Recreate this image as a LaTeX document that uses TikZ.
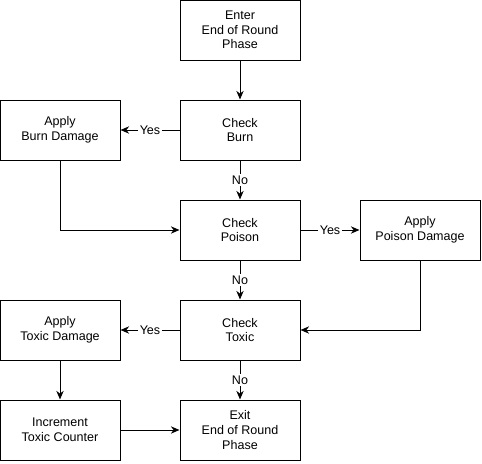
\documentclass[tikz,border=0pt]{standalone}
\usepackage{fontspec}
\setmainfont{Liberation Sans}
\usetikzlibrary{arrows.meta}

\begin{document}
\begin{tikzpicture}[x=0.75pt, y=-0.75pt,
    box/.style={draw, line width=0.75pt, minimum width=90pt, minimum height=45pt,
        align=center, inner sep=0pt, font=\fontsize{9.4}{11}\selectfont},
    flow/.style={line width=0.75pt, -{Stealth[length=6.5pt, width=5.5pt]}},
    lbl/.style={fill=white, inner sep=1pt, font=\fontsize{9.4}{11}\selectfont}]
    \useasboundingbox (0, 0) rectangle (482, 464);

    % Main column of checks
    \node[box] (enter) at (240, 30) {Enter\\End of Round\\Phase};
    \node[box] (burn) at (240, 130) {Check\\Burn};
    \node[box] (poison) at (240, 230) {Check\\Poison};
    \node[box] (toxic) at (240, 330) {Check\\Toxic};
    \node[box] (exit) at (240, 430) {Exit\\End of Round\\Phase};

    % Side actions
    \node[box] (applyburn) at (60, 130) {Apply\\Burn Damage};
    \node[box] (applypoison) at (420, 230) {Apply\\Poison Damage};
    \node[box] (applytoxic) at (60, 330) {Apply\\Toxic Damage};
    \node[box] (counter) at (60, 430) {Increment\\Toxic Counter};

    \draw[flow] (enter) -- (burn);
    \draw[flow] (burn) -- node[lbl] {Yes} (applyburn);
    \draw[flow] (burn) -- node[lbl] {No} (poison);
    \draw[flow] (applyburn.south) |- (poison.west);

    \draw[flow] (poison) -- node[lbl] {Yes} (applypoison);
    \draw[flow] (poison) -- node[lbl] {No} (toxic);
    \draw[flow] (applypoison.south) |- (toxic.east);

    \draw[flow] (toxic) -- node[lbl] {Yes} (applytoxic);
    \draw[flow] (toxic) -- node[lbl] {No} (exit);
    \draw[flow] (applytoxic) -- (counter);
    \draw[flow] (counter) -- (exit);
\end{tikzpicture}
\end{document}
